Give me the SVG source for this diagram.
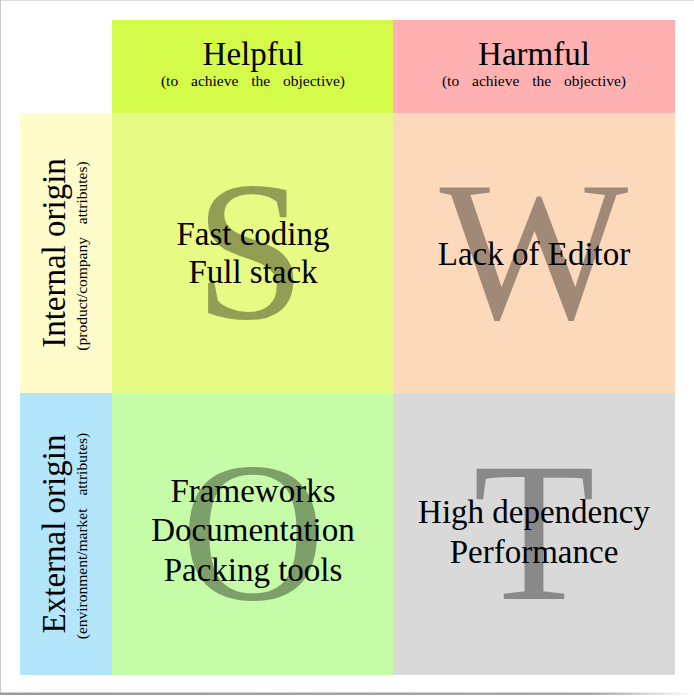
<svg xmlns="http://www.w3.org/2000/svg" width="694" height="696" viewBox="0 0 694 696">
  <defs>
    <linearGradient id="shadow" x1="0" y1="0" x2="1" y2="0">
      <stop offset="0" stop-color="#9a9a9a"/>
      <stop offset="0.85" stop-color="#a8a8a8"/>
      <stop offset="1" stop-color="#ffffff"/>
    </linearGradient>
  </defs>
  <style>
    text { font-family: "Liberation Serif", "Times New Roman", serif; fill: #000; }
    .main { font-size: 33px; text-anchor: middle; }
    .sub { font-size: 15.5px; text-anchor: middle; word-spacing: 9px; }
    .big { font-size: 200px; text-anchor: middle; fill: #000; fill-opacity: 0.37; }
    .item { font-size: 33px; text-anchor: middle; }
  </style>
  <rect x="0" y="0" width="694" height="696" fill="#fff"/>
  <line x1="0" y1="0.5" x2="694" y2="0.5" stroke="#dcdcdc" stroke-width="1"/>
  <line x1="0.5" y1="0" x2="0.5" y2="694" stroke="#c8c8c8" stroke-width="1"/>
  <rect x="0" y="692.5" width="694" height="2.5" fill="url(#shadow)"/>

  <g id="helpful">
    <rect x="112" y="20" width="281" height="93" fill="#d4fa4a"/>
    <text class="main" x="253" y="65">Helpful</text>
    <text class="sub" x="253" y="86">(to achieve the objective)</text>
  </g>
  <g id="harmful">
    <rect x="393" y="20" width="282" height="93" fill="#ffb0b0"/>
    <text class="main" x="534" y="65">Harmful</text>
    <text class="sub" x="534" y="86">(to achieve the objective)</text>
  </g>
  <g id="internal">
    <rect x="20" y="113" width="92" height="280" fill="#fffccc"/>
    <text class="main" transform="translate(65,253) rotate(-90)">Internal origin</text>
    <text class="sub" transform="translate(87,256) rotate(-90)">(product/company attributes)</text>
  </g>
  <g id="external">
    <rect x="20" y="393" width="92" height="282" fill="#b3e6fa"/>
    <text class="main" transform="translate(65,534) rotate(-90)">External origin</text>
    <text class="sub" transform="translate(87,536) rotate(-90)">(environment/market attributes)</text>
  </g>
  <g id="strengths">
    <rect x="112" y="113" width="281" height="280" fill="#e6fa84"/>
    <text class="big" x="250" y="318">S</text>
    <text class="item" x="253" y="245">Fast coding</text>
    <text class="item" x="253" y="283">Full stack</text>
  </g>
  <g id="weaknesses">
    <rect x="393" y="113" width="282" height="280" fill="#fdd9bb"/>
    <text class="big" x="534" y="318">W</text>
    <text class="item" x="534" y="265">Lack of Editor</text>
  </g>
  <g id="opportunities">
    <rect x="112" y="393" width="281" height="282" fill="#c6fca7"/>
    <text class="big" x="253" y="599">O</text>
    <text class="item" x="253" y="502">Frameworks</text>
    <text class="item" x="253" y="541">Documentation</text>
    <text class="item" x="253" y="581">Packing tools</text>
  </g>
  <g id="threats">
    <rect x="393" y="393" width="282" height="282" fill="#d9d9d9"/>
    <text class="big" x="534" y="599">T</text>
    <text class="item" x="534" y="523">High dependency</text>
    <text class="item" x="534" y="563">Performance</text>
  </g>
</svg>
